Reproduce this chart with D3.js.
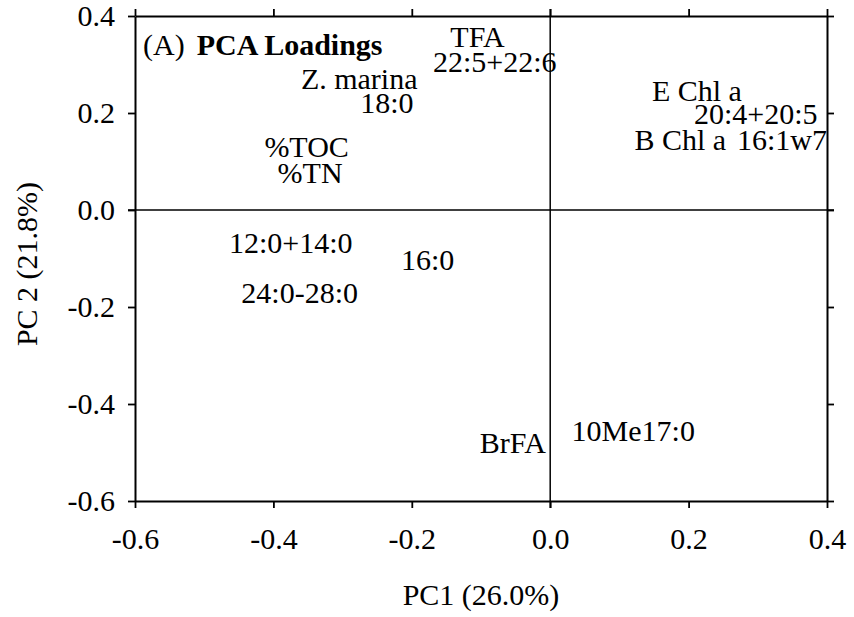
<!DOCTYPE html>
<html>
<head>
<meta charset="utf-8">
<script src="https://cdn.jsdelivr.net/npm/d3@7"></script>
<style>
  html, body { margin: 0; padding: 0; background: #fff; }
  svg { display: block; }
  text { font-family: "Liberation Serif", "Times New Roman", Times, serif; fill: #000; }
</style>
</head>
<body>
<svg id="chart" width="854" height="617"></svg>
<script>
// ---- Data ----
const labels = ["TFA", "22:5+22:6", "Z. marina", "18:0", "%TOC", "%TN", "12:0+14:0", "16:0", "24:0-28:0",
                "E Chl a", "20:4+20:5", "B Chl a", "16:1w7", "BrFA", "10Me17:0"];
const pc1 = [-0.105, -0.080, -0.276, -0.236, -0.352, -0.347, -0.375, -0.177, -0.362,
              0.212, 0.297, 0.188, 0.335, -0.054, 0.120];
const pc2 = [0.357, 0.307, 0.272, 0.221, 0.130, 0.078, -0.066, -0.103, -0.171,
             0.247, 0.200, 0.146, 0.146, -0.480, -0.454];
const xTicks = [-0.6, -0.4, -0.2, 0.0, 0.2, 0.4];
const yTicks = [-0.6, -0.4, -0.2, 0.0, 0.2, 0.4];
const xTitle = "PC1 (26.0%)";
const yTitle = "PC 2 (21.8%)";
const panelTag = "(A)";
const panelTitle = "PCA Loadings";

// ---- Layout ----
const svg = d3.select("#chart");
const L = 135, R = 827, T = 16, B = 501;
const fs = 30;
const serif = '"Liberation Serif", "Times New Roman", Times, serif';

const x = d3.scaleLinear().domain([-0.6, 0.4]).range([L, R]);
const y = d3.scaleLinear().domain([-0.6, 0.4]).range([B, T]);
const fmt = v => d3.format(".1f")(v).replace("\u2212", "-");

svg.append("rect").attr("width", 854).attr("height", 617).attr("fill", "#fff");

// Zero reference lines (with outward extensions)
svg.append("line").attr("x1", x(0)).attr("x2", x(0)).attr("y1", T - 7).attr("y2", B + 7)
  .attr("stroke", "#000").attr("stroke-width", 1.5);
svg.append("line").attr("x1", L - 7).attr("x2", R + 7).attr("y1", y(0)).attr("y2", y(0))
  .attr("stroke", "#000").attr("stroke-width", 1.5);

function styleAxis(g, showText) {
  g.select(".domain").attr("stroke", "#000").attr("stroke-width", 2);
  g.selectAll(".tick line").attr("stroke", "#000").attr("stroke-width", 1.8);
  g.selectAll(".tick text").style("font-size", fs + "px")
    .style("font-family", serif)
    .attr("fill", "#000");
  if (!showText) g.selectAll(".tick text").remove();
}

const gB = svg.append("g").attr("transform", `translate(0,${B})`)
  .call(d3.axisBottom(x).tickValues(xTicks).tickFormat(fmt).tickSize(7).tickSizeOuter(0).tickPadding(20));
styleAxis(gB, true);

const gT = svg.append("g").attr("transform", `translate(0,${T})`)
  .call(d3.axisTop(x).tickValues(xTicks).tickSize(7).tickSizeOuter(0));
styleAxis(gT, false);

const gL = svg.append("g").attr("transform", `translate(${L},0)`)
  .call(d3.axisLeft(y).tickValues(yTicks).tickFormat(fmt).tickSize(7).tickSizeOuter(0).tickPadding(13));
styleAxis(gL, true);

const gR = svg.append("g").attr("transform", `translate(${R},0)`)
  .call(d3.axisRight(y).tickValues(yTicks).tickSize(7).tickSizeOuter(0));
styleAxis(gR, false);

// Loadings labels
svg.append("g").selectAll("text").data(labels).join("text")
  .attr("x", (d, i) => x(pc1[i]))
  .attr("y", (d, i) => y(pc2[i]))
  .attr("dy", "0.35em")
  .attr("text-anchor", "middle")
  .style("font-size", fs + "px")
  .text(d => d);

// Panel title
const t = svg.append("text").attr("x", 143).attr("y", 55).style("font-size", fs + "px");
t.append("tspan").text(panelTag);
t.append("tspan").attr("dx", 12).attr("font-weight", "bold").text(panelTitle);

// Axis titles
svg.append("text").attr("x", 481).attr("y", 605)
  .attr("text-anchor", "middle").style("font-size", fs + "px").text(xTitle);
svg.append("text").attr("transform", `translate(37,264) rotate(-90)`)
  .attr("text-anchor", "middle").style("font-size", fs + "px").text(yTitle);
</script>
</body>
</html>
